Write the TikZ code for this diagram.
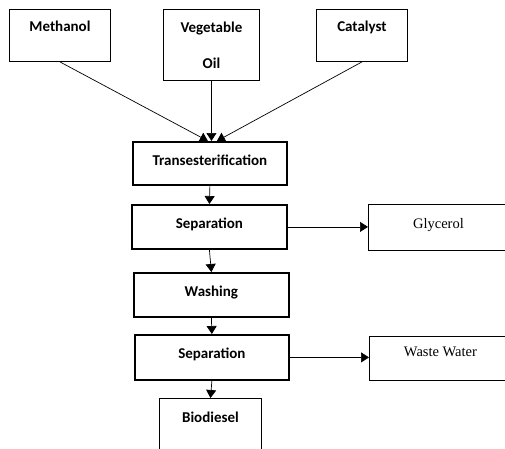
\documentclass[tikz,border=0pt]{standalone}
\usepackage{fontspec}
\newfontfamily\carlito{Carlito}
\newfontfamily\libserif{Liberation Serif}
\usetikzlibrary{arrows.meta}

\tikzset{
  inbox/.style={draw, line width=0.9pt, font=\carlito\bfseries\fontsize{15}{17}\selectfont,
    inner sep=0pt, anchor=north west},
  stepbox/.style={inbox, line width=1.8pt, text height=24pt},
  outbox/.style={draw, line width=0.9pt, font=\libserif\fontsize{14.5}{17}\selectfont,
    inner sep=0pt, anchor=north west},
  arr/.style={-{Triangle[length=8pt,width=10pt]}, line width=0.7pt},
}

\begin{document}
\begin{tikzpicture}[x=1pt,y=-1pt]
    \useasboundingbox (0,0) rectangle (505,448);
    \clip (0,0) rectangle (505,448);

    % Feed boxes
    \node[inbox, minimum width=101pt, text height=22pt, text depth=30pt] (meth) at (9,9) {Methanol};
    \node[inbox, minimum width=96pt, minimum height=71pt, align=center,
      font=\carlito\bfseries\fontsize{15}{36}\selectfont] (veg) at (163,9) {Vegetable\\Oil};
    \node[inbox, minimum width=91pt, text height=22pt, text depth=30pt] (cat) at (316,9) {Catalyst};

    % Process steps
    \node[stepbox, minimum width=154pt, text depth=19pt] (trans) at (132,141) {Transesterification};
    \node[stepbox, minimum width=155pt, text depth=20pt] (sep1) at (131,204) {Separation};
    \node[stepbox, minimum width=155pt, text depth=20pt] (wash) at (133,272) {Washing};
    \node[stepbox, minimum width=154pt, text depth=21pt] (sep2) at (134,334) {Separation};
    \node[inbox, minimum width=102pt, text height=24pt, text depth=36pt] (bio) at (159,398) {Biodiesel};

    % Side products
    \node[outbox, minimum width=140pt, text height=24pt, text depth=22pt] (glyc) at (368,204) {Glycerol};
    \node[outbox, minimum width=142pt, text height=20pt, text depth=24pt] (water) at (369,336) {Waste Water};

    % Arrows
    \draw[arr] (meth.south) -- ([xshift=-2pt]trans.north);
    \draw[arr] (veg.south) -- (veg.south |- trans.north);
    \draw[arr] (cat.south) -- ([xshift=7pt]trans.north);
    \draw[arr] (trans.south) -- (sep1.north);
    \draw[arr] (sep1.south) -- (wash.north);
    \draw[arr] (wash.south) -- (sep2.north);
    \draw[arr] (sep2.south) -- (bio.north);
    \draw[arr] (sep1.east) -- (sep1.east -| glyc.west);
    \draw[arr] (sep2.east) -- (sep2.east -| water.west);
\end{tikzpicture}
\end{document}
